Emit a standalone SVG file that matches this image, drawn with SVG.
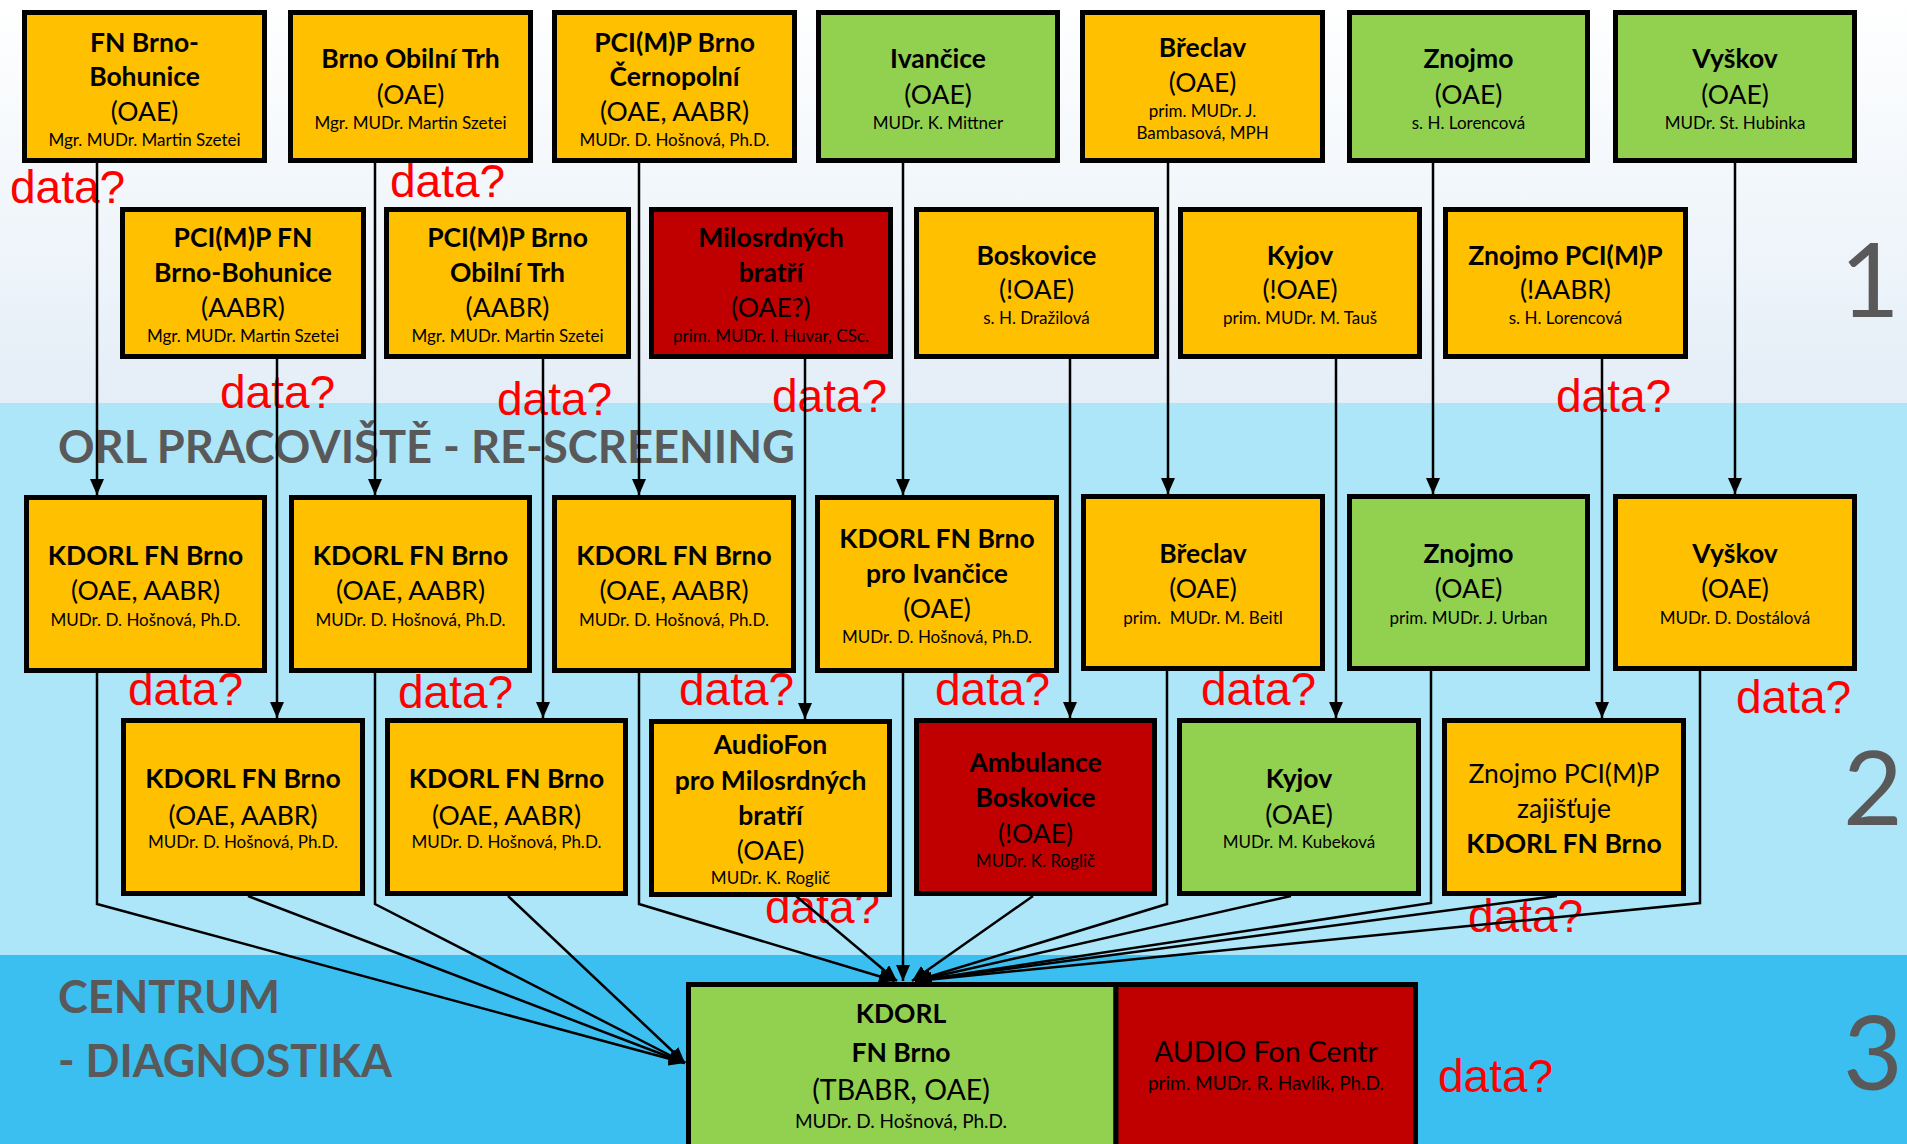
<svg xmlns="http://www.w3.org/2000/svg" width="1907" height="1144" viewBox="0 0 1907 1144">
<defs>
<linearGradient id="topg" x1="0" y1="0" x2="0" y2="1">
<stop offset="0" stop-color="#FFFFFF"/>
<stop offset="1" stop-color="#E4EEF7"/>
</linearGradient>
<marker id="ah" markerUnits="userSpaceOnUse" markerWidth="16" markerHeight="14" refX="16" refY="7" orient="auto" viewBox="0 0 16 14">
<path d="M0,0 L16,7 L0,14 z" fill="#000"/>
</marker>
<style>
.box{stroke:#000;stroke-width:5}
.o{fill:#FFC000}
.g{fill:#92D050}
.red{fill:#C00000}
text{font-family:Lato,"Liberation Sans",sans-serif;fill:#000;text-anchor:middle}
.b{font-weight:bold;font-size:26.5px}
.r{font-size:26.5px}
.s{font-size:17px}
.s2{font-size:19px}
.r2{font-size:28.5px}
.d{font-family:"Liberation Sans",Arial,sans-serif;font-size:46px;fill:#FF0000;text-anchor:start}
.sec{font-weight:bold;font-size:46px;fill:#595959;text-anchor:start}
.num{font-size:103px;fill:#595959;text-anchor:start}
.cn{fill:none;stroke:#000;stroke-width:2.5;marker-end:url(#ah)}
</style>
</defs>

<rect x="0" y="0" width="1907" height="403" fill="url(#topg)"/>
<rect x="0" y="403" width="1907" height="552" fill="#ADE6F9"/>
<rect x="0" y="955" width="1907" height="189" fill="#3BBFF1"/>

<g id="section-labels">
<text class="sec" x="58" y="463" textLength="737" lengthAdjust="spacingAndGlyphs">ORL PRACOVIŠTĚ - RE-SCREENING</text>
<text class="sec" x="58" y="1013" textLength="222" lengthAdjust="spacingAndGlyphs">CENTRUM</text>
<text class="sec" x="58" y="1077" textLength="334" lengthAdjust="spacingAndGlyphs">- DIAGNOSTIKA</text>
<text class="num" x="1840" y="317">1</text>
<text class="num" x="1843" y="825">2</text>
<text class="num" x="1843" y="1090">3</text>
</g>

<g id="data-labels">
<text class="d" x="10" y="203">data?</text>
<text class="d" x="390" y="197">data?</text>
<text class="d" x="220" y="408">data?</text>
<text class="d" x="497" y="415">data?</text>
<text class="d" x="772" y="412">data?</text>
<text class="d" x="1556" y="412">data?</text>
<text class="d" x="128" y="705">data?</text>
<text class="d" x="398" y="708">data?</text>
<text class="d" x="679" y="705">data?</text>
<text class="d" x="935" y="705">data?</text>
<text class="d" x="1201" y="705">data?</text>
<text class="d" x="1736" y="713">data?</text>
<text class="d" x="765" y="923">data?</text>
<text class="d" x="1468" y="932">data?</text>
<text class="d" x="1438" y="1092">data?</text>
</g>

<g id="connectors">
<line class="cn" x1="97" y1="163" x2="97" y2="495"/>
<line class="cn" x1="375" y1="163" x2="375" y2="495"/>
<line class="cn" x1="639" y1="163" x2="639" y2="495"/>
<line class="cn" x1="903" y1="163" x2="903" y2="495"/>
<line class="cn" x1="1168" y1="163" x2="1168" y2="494"/>
<line class="cn" x1="1433" y1="163" x2="1433" y2="494"/>
<line class="cn" x1="1735" y1="163" x2="1735" y2="494"/>
<line class="cn" x1="277" y1="359" x2="277" y2="718"/>
<line class="cn" x1="543" y1="359" x2="543" y2="718"/>
<line class="cn" x1="805" y1="359" x2="805" y2="719"/>
<line class="cn" x1="1070" y1="359" x2="1070" y2="718"/>
<line class="cn" x1="1336" y1="359" x2="1336" y2="718"/>
<line class="cn" x1="1602" y1="359" x2="1602" y2="718"/>
<polyline class="cn" points="97,673 97,904 685,1063"/>
<line class="cn" x1="248" y1="896" x2="685" y2="1063"/>
<polyline class="cn" points="375,673 375,904 685,1063"/>
<line class="cn" x1="508" y1="896" x2="685" y2="1063"/>
<polyline class="cn" points="639,673 639,904 895,981"/>
<line class="cn" x1="796" y1="896" x2="897" y2="981"/>
<line class="cn" x1="903" y1="673" x2="903" y2="981"/>
<line class="cn" x1="1033" y1="896" x2="912" y2="981"/>
<polyline class="cn" points="1167,671 1167,904 915,981"/>
<line class="cn" x1="1291" y1="896" x2="915" y2="981"/>
<polyline class="cn" points="1431,671 1431,903 916,981"/>
<line class="cn" x1="1557" y1="896" x2="916" y2="981"/>
<polyline class="cn" points="1700,671 1700,903 916,981"/>
</g>

<g id="A1"><rect class="box o" x="24.5" y="12.5" width="240" height="148"/>
<text class="b" x="144.5" y="52">FN Brno-</text><text class="b" x="144.5" y="86">Bohunice</text><text class="r" x="144.5" y="121">(OAE)</text><text class="s" x="144.5" y="146">Mgr. MUDr. Martin Szetei</text></g>
<g id="A2"><rect class="box o" x="290.5" y="12.5" width="240" height="148"/>
<text class="b" x="410.5" y="68">Brno Obilní Trh</text><text class="r" x="410.5" y="104">(OAE)</text><text class="s" x="410.5" y="129">Mgr. MUDr. Martin Szetei</text></g>
<g id="A3"><rect class="box o" x="554.5" y="12.5" width="240" height="148"/>
<text class="b" x="674.5" y="52">PCI(M)P Brno</text><text class="b" x="674.5" y="86">Černopolní</text><text class="r" x="674.5" y="121">(OAE, AABR)</text><text class="s" x="674.5" y="146">MUDr. D. Hošnová, Ph.D.</text></g>
<g id="A4"><rect class="box g" x="818.5" y="12.5" width="239" height="148"/>
<text class="b" x="938" y="68">Ivančice</text><text class="r" x="938" y="104">(OAE)</text><text class="s" x="938" y="129">MUDr. K. Mittner</text></g>
<g id="A5"><rect class="box o" x="1082.5" y="12.5" width="240" height="148"/>
<text class="b" x="1202.5" y="57">Břeclav</text><text class="r" x="1202.5" y="92">(OAE)</text><text class="s" x="1202.5" y="117">prim. MUDr. J.</text><text class="s" x="1202.5" y="139">Bambasová, MPH</text></g>
<g id="A6"><rect class="box g" x="1349.5" y="12.5" width="238" height="148"/>
<text class="b" x="1468.5" y="68">Znojmo</text><text class="r" x="1468.5" y="104">(OAE)</text><text class="s" x="1468.5" y="129">s. H. Lorencová</text></g>
<g id="A7"><rect class="box g" x="1615.5" y="12.5" width="239" height="148"/>
<text class="b" x="1735" y="68">Vyškov</text><text class="r" x="1735" y="104">(OAE)</text><text class="s" x="1735" y="129">MUDr. St. Hubinka</text></g>

<g id="B1"><rect class="box o" x="122.5" y="209.5" width="241" height="147"/>
<text class="b" x="243" y="247">PCI(M)P FN</text><text class="b" x="243" y="282">Brno-Bohunice</text><text class="r" x="243" y="317">(AABR)</text><text class="s" x="243" y="342">Mgr. MUDr. Martin Szetei</text></g>
<g id="B2"><rect class="box o" x="386.5" y="209.5" width="242" height="147"/>
<text class="b" x="507.5" y="247">PCI(M)P Brno</text><text class="b" x="507.5" y="282">Obilní Trh</text><text class="r" x="507.5" y="317">(AABR)</text><text class="s" x="507.5" y="342">Mgr. MUDr. Martin Szetei</text></g>
<g id="B3"><rect class="box red" x="651.5" y="209.5" width="239" height="147"/>
<text class="b" x="771" y="247">Milosrdných</text><text class="b" x="771" y="282">bratří</text><text class="r" x="771" y="317">(OAE?)</text><text class="s" x="771" y="342">prim. MUDr. I. Huvar, CSc.</text></g>
<g id="B4"><rect class="box o" x="916.5" y="209.5" width="240" height="147"/>
<text class="b" x="1036.5" y="265">Boskovice</text><text class="r" x="1036.5" y="299">(!OAE)</text><text class="s" x="1036.5" y="324">s. H. Dražilová</text></g>
<g id="B5"><rect class="box o" x="1180.5" y="209.5" width="239" height="147"/>
<text class="b" x="1300" y="265">Kyjov</text><text class="r" x="1300" y="299">(!OAE)</text><text class="s" x="1300" y="324">prim. MUDr. M. Tauš</text></g>
<g id="B6"><rect class="box o" x="1445.5" y="209.5" width="240" height="147"/>
<text class="b" x="1565.5" y="265">Znojmo PCI(M)P</text><text class="r" x="1565.5" y="299">(!AABR)</text><text class="s" x="1565.5" y="324">s. H. Lorencová</text></g>

<g id="C1"><rect class="box o" x="26.5" y="497.5" width="238" height="173"/>
<text class="b" x="145.5" y="565">KDORL FN Brno</text><text class="r" x="145.5" y="600">(OAE, AABR)</text><text class="s" x="145.5" y="626">MUDr. D. Hošnová, Ph.D.</text></g>
<g id="C2"><rect class="box o" x="291.5" y="497.5" width="238" height="173"/>
<text class="b" x="410.5" y="565">KDORL FN Brno</text><text class="r" x="410.5" y="600">(OAE, AABR)</text><text class="s" x="410.5" y="626">MUDr. D. Hošnová, Ph.D.</text></g>
<g id="C3"><rect class="box o" x="554.5" y="497.5" width="239" height="173"/>
<text class="b" x="674" y="565">KDORL FN Brno</text><text class="r" x="674" y="600">(OAE, AABR)</text><text class="s" x="674" y="626">MUDr. D. Hošnová, Ph.D.</text></g>
<g id="C4"><rect class="box o" x="817.5" y="497.5" width="239" height="173"/>
<text class="b" x="937" y="548">KDORL FN Brno</text><text class="b" x="937" y="583">pro Ivančice</text><text class="r" x="937" y="618">(OAE)</text><text class="s" x="937" y="643">MUDr. D. Hošnová, Ph.D.</text></g>
<g id="C5"><rect class="box o" x="1083.5" y="496.5" width="239" height="172"/>
<text class="b" x="1203" y="563">Břeclav</text><text class="r" x="1203" y="598">(OAE)</text><text class="s" x="1203" y="624" xml:space="preserve">prim.  MUDr. M. Beitl</text></g>
<g id="C6"><rect class="box g" x="1349.5" y="496.5" width="238" height="172"/>
<text class="b" x="1468.5" y="563">Znojmo</text><text class="r" x="1468.5" y="598">(OAE)</text><text class="s" x="1468.5" y="624">prim. MUDr. J. Urban</text></g>
<g id="C7"><rect class="box o" x="1615.5" y="496.5" width="239" height="172"/>
<text class="b" x="1735" y="563">Vyškov</text><text class="r" x="1735" y="598">(OAE)</text><text class="s" x="1735" y="624">MUDr. D. Dostálová</text></g>

<g id="D1"><rect class="box o" x="123.5" y="720.5" width="239" height="173"/>
<text class="b" x="243" y="788">KDORL FN Brno</text><text class="r" x="243" y="825">(OAE, AABR)</text><text class="s" x="243" y="848">MUDr. D. Hošnová, Ph.D.</text></g>
<g id="D2"><rect class="box o" x="387.5" y="720.5" width="238" height="173"/>
<text class="b" x="506.5" y="788">KDORL FN Brno</text><text class="r" x="506.5" y="825">(OAE, AABR)</text><text class="s" x="506.5" y="848">MUDr. D. Hošnová, Ph.D.</text></g>
<g id="D3"><rect class="box o" x="651.5" y="721.5" width="238" height="173"/>
<text class="b" x="770.5" y="754">AudioFon</text><text class="b" x="770.5" y="790">pro Milosrdných</text><text class="b" x="770.5" y="825">bratří</text><text class="r" x="770.5" y="860">(OAE)</text><text class="s" x="770.5" y="884">MUDr. K. Roglič</text></g>
<g id="D4"><rect class="box red" x="916.5" y="720.5" width="238" height="173"/>
<text class="b" x="1035.5" y="772">Ambulance</text><text class="b" x="1035.5" y="807">Boskovice</text><text class="r" x="1035.5" y="843">(!OAE)</text><text class="s" x="1035.5" y="867">MUDr. K. Roglič</text></g>
<g id="D5"><rect class="box g" x="1179.5" y="720.5" width="239" height="173"/>
<text class="b" x="1299" y="788">Kyjov</text><text class="r" x="1299" y="824">(OAE)</text><text class="s" x="1299" y="848">MUDr. M. Kubeková</text></g>
<g id="D6"><rect class="box o" x="1444.5" y="720.5" width="239" height="173"/>
<text class="r" x="1564" y="783">Znojmo PCI(M)P</text><text class="r" x="1564" y="818">zajišťuje</text><text class="b" x="1564" y="853">KDORL FN Brno</text></g>

<g id="E1"><rect class="box g" x="688.5" y="984.5" width="427.5" height="175"/>
<text class="b" x="901" y="1023">KDORL</text><text class="b" x="901" y="1062">FN Brno</text><text class="r2" x="901" y="1100">(TBABR, OAE)</text><text class="s2" x="901" y="1128">MUDr. D. Hošnová, Ph.D.</text></g>
<g id="E2"><rect class="box red" x="1116" y="984.5" width="299.5" height="175"/>
<text class="r2" x="1266" y="1062">AUDIO Fon Centr</text><text class="s2" x="1266" y="1090">prim. MUDr. R. Havlík, Ph.D.</text></g>
</svg>
